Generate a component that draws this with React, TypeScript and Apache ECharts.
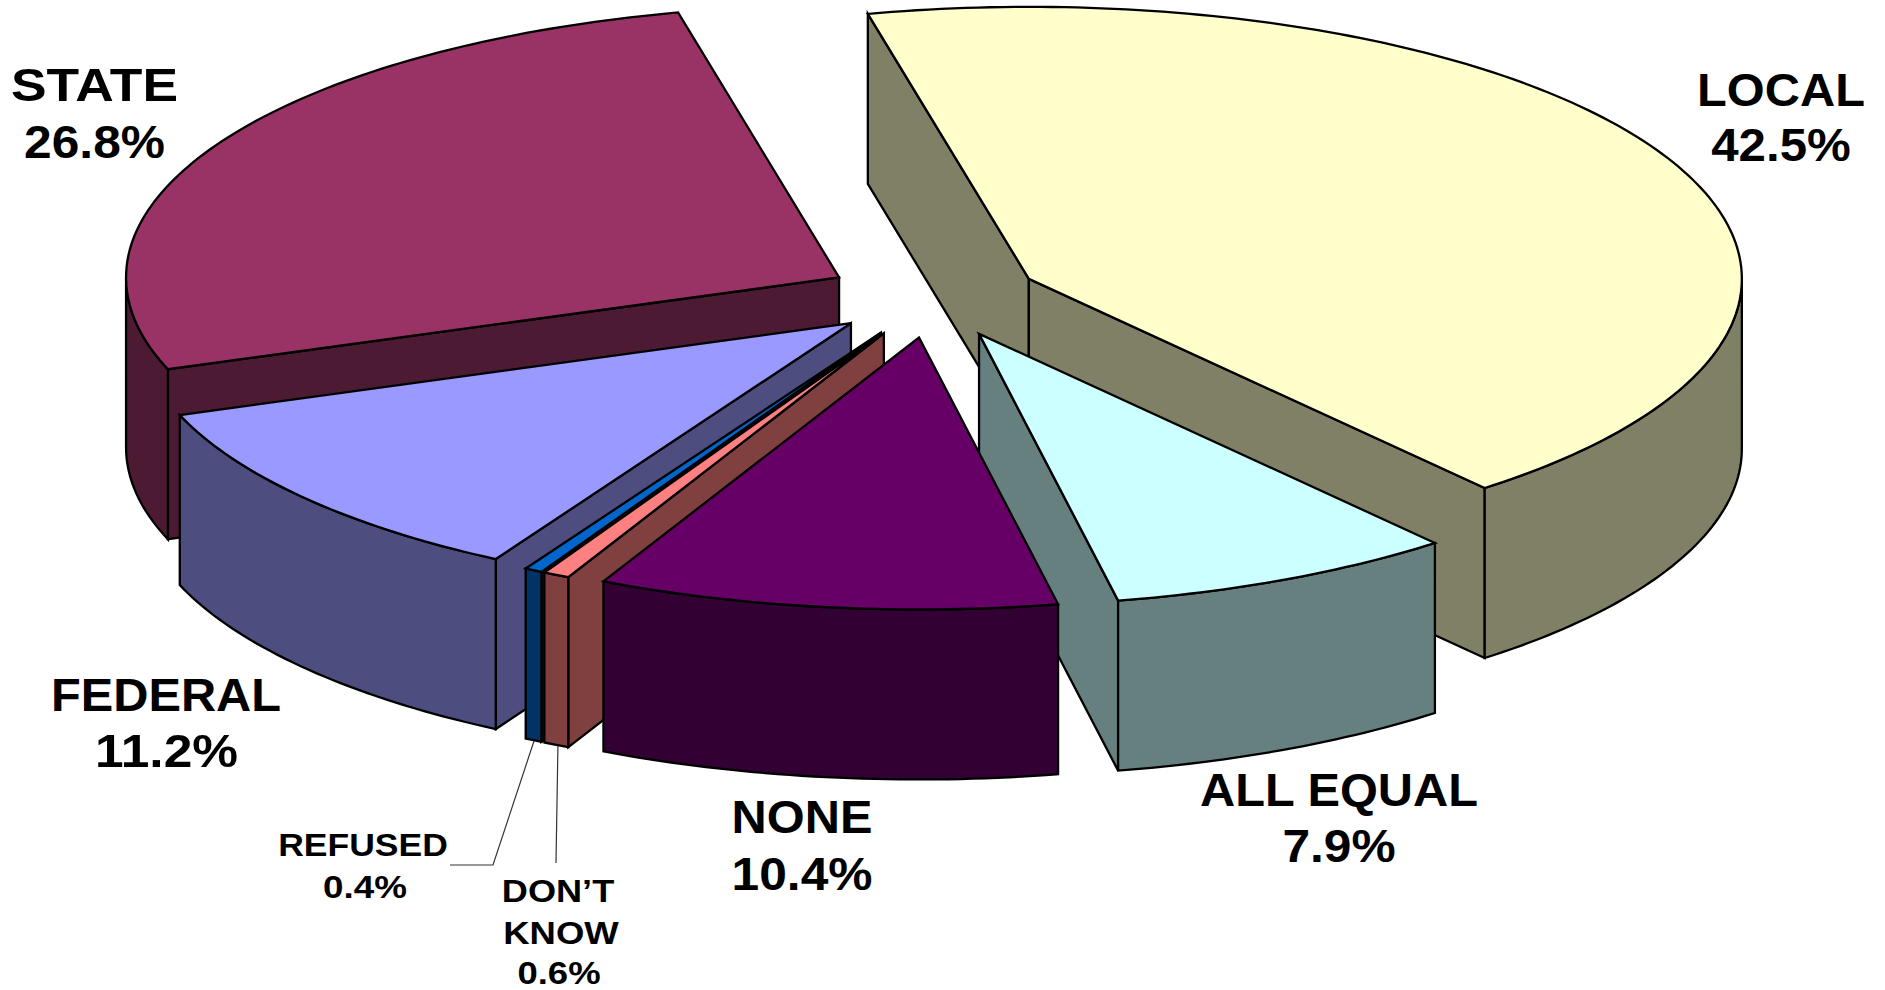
import React, { useEffect, useRef } from "react";
import * as echarts from "echarts";

const names = ["LOCAL", "ALL EQUAL", "NONE", "DON’T\nKNOW", "REFUSED", "FEDERAL", "STATE"];
const shares = [42.5, 7.9, 10.4, 0.6, 0.4, 11.2, 26.8];
const topColors = ["#FFFFCC", "#CCFFFF", "#660066", "#FF8080", "#0066CC", "#9999FF", "#993366"];
const wallColors = ["#808066", "#668080", "#330033", "#804040", "#003366", "#4D4D80", "#4D1A33"];
// indices into the lists above, back to front
const paintOrder = [6, 0, 5, 4, 3, 1, 2];
// per text line: x centre, baseline y, horizontal stretch
const labelLayout = [
  { size: 46, x: [1781, 1781], base: [107, 162], sx: [1.06, 1.07] },
  { size: 46, x: [1339, 1339], base: [807, 863], sx: [1.06, 1.08] },
  { size: 46, x: [802, 802], base: [834, 891], sx: [1.06, 1.08] },
  { size: 32, x: [558, 561, 559], base: [902, 944, 984], sx: [1.13, 1.14, 1.14] },
  { size: 32, x: [363, 365], base: [856, 898], sx: [1.11, 1.15] },
  { size: 46, x: [166, 166.5], base: [712, 768], sx: [1.06, 1.12] },
  { size: 46, x: [94.5, 94.5], base: [102, 159], sx: [1.16, 1.08] },
];
const leaderLines = [
  [[535, 738], [493, 865], [450, 865]],
  [[558, 742], [556, 863]],
];

const PIE = { cx: 933, cy: 297, rx: 713, ry: 272, depth: 170, explode: 107, start: 103.05 };

const total = shares.reduce((a, b) => a + b, 0);
const spans: { from: number; to: number }[] = [];
{
  let a = PIE.start;
  for (const v of shares) {
    const next = a - (v / total) * 360;
    spans.push({ from: a, to: next });
    a = next;
  }
}

const rad = (d: number) => (d * Math.PI) / 180;

function renderSlice(params: any) {
  const idx = paintOrder[params.dataIndex];
  const { from, to } = spans[idx];
  const mid = (from + to) / 2;
  const ax = PIE.cx + PIE.explode * Math.cos(rad(mid));
  const ay = PIE.cy - (PIE.explode * Math.sin(rad(mid)) * PIE.ry) / PIE.rx;
  const rim = (deg: number, drop = 0) => [
    ax + PIE.rx * Math.cos(rad(deg)),
    ay - PIE.ry * Math.sin(rad(deg)) + drop,
  ];
  const style = (fill: string) => ({ fill, stroke: "#000", lineWidth: 2.3, lineJoin: "miter" });
  const arc = (a: number, b: number, drop = 0) => {
    const pts: number[][] = [];
    const n = Math.max(2, Math.ceil(Math.abs(a - b)));
    for (let i = 0; i <= n; i++) pts.push(rim(a + ((b - a) * i) / n, drop));
    return pts;
  };
  const wall = wallColors[idx];
  const children: any[] = [];
  const cut = (deg: number) => {
    const p = rim(deg);
    children.push({
      type: "polygon",
      shape: { points: [[ax, ay], p, [p[0], p[1] + PIE.depth], [ax, ay + PIE.depth]] },
      style: style(wall),
    });
  };
  if (Math.cos(rad(from)) < 0) cut(from);
  if (Math.cos(rad(to)) > 0) cut(to);
  const hi = Math.min(from, 0);
  const lo = Math.max(to, -180);
  if (hi > lo) {
    children.push({
      type: "polygon",
      shape: { points: [...arc(hi, lo), ...arc(lo, hi, PIE.depth)] },
      style: style(wall),
    });
  }
  children.push({
    type: "polygon",
    shape: { points: [[ax, ay], ...arc(from, to)] },
    style: style(topColors[idx]),
  });
  return { type: "group", children };
}

export default function App() {
  const ref = useRef<HTMLDivElement>(null);
  useEffect(() => {
    const chart = echarts.init(ref.current!, undefined, { renderer: "svg" });
    const labels = names.flatMap((n, i) => {
      const l = labelLayout[i];
      const lines = [...n.split("\n"), `${shares[i].toFixed(1)}%`];
      return lines.map((text, k) => ({
        type: "text",
        x: l.x[k],
        y: l.base[k] - l.size * 0.36,
        scaleX: l.sx[k],
        silent: true,
        style: {
          text,
          align: "center",
          verticalAlign: "middle",
          fontFamily: "Liberation Sans",
          fontWeight: "bold",
          fontSize: l.size,
          fill: "#000",
        },
      }));
    });
    const leaders = leaderLines.map((pts) => ({
      type: "polyline",
      silent: true,
      shape: { points: pts },
      style: { fill: "none", stroke: "#333", lineWidth: 1.2 },
    }));
    chart.setOption({
      animation: false,
      backgroundColor: "#fff",
      graphic: { elements: [...leaders, ...labels] },
      series: [
        {
          type: "custom",
          coordinateSystem: "none",
          silent: true,
          clip: false,
          renderItem: renderSlice,
          data: paintOrder.map((i) => ({ name: names[i], value: [shares[i]] })),
        },
      ],
    });
    return () => chart.dispose();
  }, []);
  return (
    <div
      ref={ref}
      style={{ position: "absolute", left: 0, top: 0, width: 1885, height: 990 }}
    />
  );
}
